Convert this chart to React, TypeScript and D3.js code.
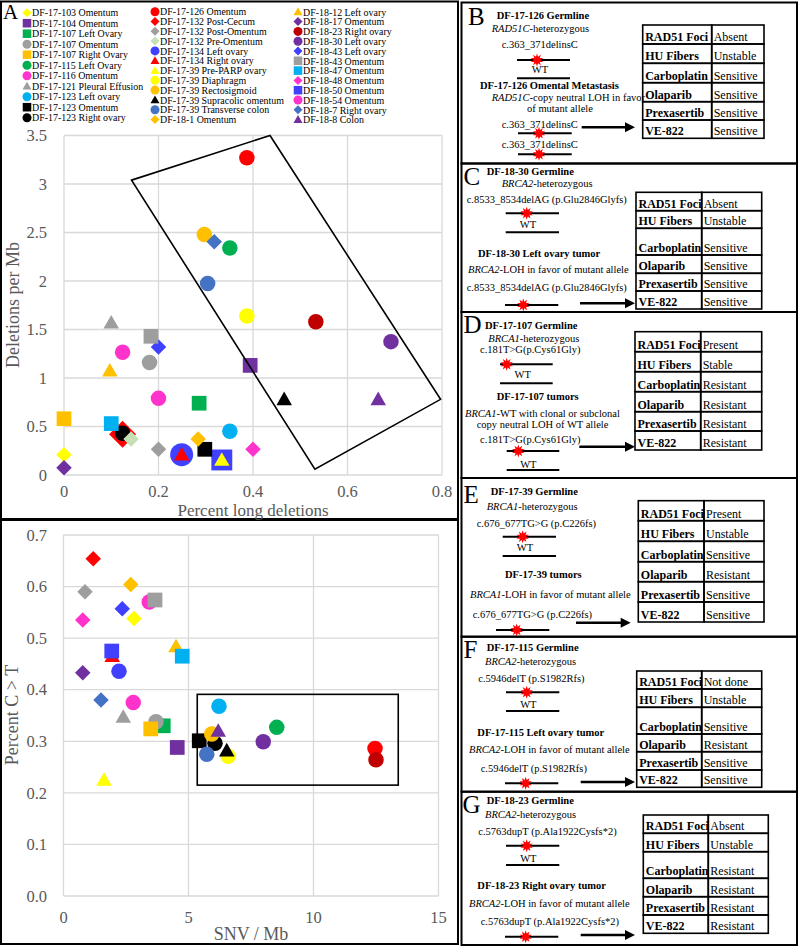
import React from 'react';
import * as d3 from 'd3';

// ---------------- DATA ----------------
const seriesNames = [
  'DF-17-103 Omentum', 'DF-17-104 Omentum', 'DF-17-107 Left Ovary', 'DF-17-107 Omentum',
  'DF-17-107 Right Ovary', 'DF-17-115 Left Ovary', 'DF-17-116 Omentum', 'DF-17-121 Pleural Effusion',
  'DF-17-123 Left ovary', 'DF-17-123 Omentum', 'DF-17-123 Right ovary',
  'DF-17-126 Omentum', 'DF-17-132 Post-Cecum', 'DF-17-132 Post-Omentum', 'DF-17-132 Pre-Omentum',
  'DF-17-134 Left ovary', 'DF-17-134 Right ovary', 'DF-17-39 Pre-PARP ovary', 'DF-17-39 Diaphragm',
  'DF-17-39 Rectosigmoid', 'DF-17-39 Supracolic omentum', 'DF-17-39 Transverse colon', 'DF-18-1 Omentum',
  'DF-18-12 Left ovary', 'DF-18-17 Omentum', 'DF-18-23 Right ovary', 'DF-18-30 Left ovary',
  'DF-18-43 Left ovary', 'DF-18-43 Omentum', 'DF-18-47 Omentum', 'DF-18-48 Omentum',
  'DF-18-50 Omentum', 'DF-18-54 Omentum', 'DF-18-7 Right ovary', 'DF-18-8 Colon',
];
const seriesColors = [
  '#ffff00', '#7030a0', '#00b050', '#9e9e9e', '#ffc000', '#00b050', '#ff33cc', '#9e9e9e',
  '#00b0f0', '#000000', '#000000',
  '#ff0000', '#ff0000', '#9e9e9e', '#c5e0b4', '#4040ff', '#ff0000', '#ffff00', '#ffff00',
  '#ffc000', '#000000', '#4472c4', '#ffc000',
  '#ffc000', '#7030a0', '#c00000', '#7030a0', '#4040ff', '#9e9e9e', '#00b0f0', '#ff33cc',
  '#4040ff', '#ff33cc', '#4472c4', '#7030a0',
];
const seriesShapes = [
  'diamond', 'square', 'square', 'circle', 'square', 'circle', 'circle', 'triangle',
  'circle', 'square', 'circle',
  'circle', 'diamond', 'diamond', 'diamond', 'circle', 'triangle', 'triangle', 'circle',
  'circle', 'triangle', 'circle', 'diamond',
  'triangle', 'diamond', 'circle', 'circle', 'diamond', 'square', 'square', 'diamond',
  'square', 'circle', 'diamond', 'triangle',
];
// Panel A top: percent long deletions vs deletions per Mb
const pctLongDel = [
  0, 0.394, 0.286, 0.181, 0, 0.351, 0.124, 0.1, 0.351, 0.298, 0.124,
  0.387, 0.124, 0.2, 0.142, 0.249, 0.249, 0.334, 0.387, 0.297, 0.466, 0.304, 0.284,
  0.097, 0, 0.533, 0.692, 0.2, 0.184, 0.1, 0.4, 0.334, 0.2, 0.318, 0.665,
];
const delPerMb = [
  0.21, 1.13, 0.74, 1.16, 0.58, 2.34, 1.265, 1.57, 0.45, 0.265, 0.43,
  3.27, 0.42, 0.265, 0.37, 0.21, 0.21, 0.155, 1.64, 2.48, 0.78, 1.975, 0.37,
  1.075, 0.075, 1.58, 1.375, 1.32, 1.43, 0.53, 0.265, 0.155, 0.79, 2.405, 0.78,
];
// Panel A bottom: SNV / Mb vs percent C > T
const snvPerMb = [
  2.82, 4.55, 3.99, 3.7, 3.49, 8.53, 3.43, 2.39, 6.22, 5.43, 6.06,
  12.46, 1.19, 0.86, 5.95, 2.22, 1.95, 1.62, 6.59, 5.93, 6.53, 5.73, 2.69,
  4.5, 0.77, 12.5, 7.99, 2.35, 3.66, 4.75, 0.77, 1.93, 2.79, 1.5, 6.19,
];
const pctCtoT = [
  0.538, 0.288, 0.33, 0.338, 0.324, 0.327, 0.57, 0.347, 0.368, 0.301, 0.296,
  0.286, 0.654, 0.59, 0.315, 0.436, 0.465, 0.225, 0.271, 0.314, 0.282, 0.275, 0.604,
  0.484, 0.433, 0.264, 0.299, 0.557, 0.574, 0.465, 0.535, 0.475, 0.375, 0.38, 0.32,
];
const enlargedTop = ['DF-17-132 Post-Cecum', 'DF-17-134 Left ovary', 'DF-18-50 Omentum'];

const xTicksTop = [0, 0.2, 0.4, 0.6, 0.8];
const yTicksTop = [0, 0.5, 1, 1.5, 2, 2.5, 3, 3.5];
const xTicksBot = [0, 5, 10, 15];
const yTicksBot = [0, 0.1, 0.2, 0.3, 0.4, 0.5, 0.6, 0.7];
// highlight polygon (data units) top, rectangle bottom
const boxTopX = [0.143, 0.436, 0.797, 0.531];
const boxTopY = [3.04, 3.5, 0.78, 0.06];
const boxBotX = [5.35, 13.39];
const boxBotY = [0.215, 0.391];

const tableRows = ['RAD51 Foci', 'HU Fibers', 'Carboplatin', 'Olaparib', 'Prexasertib', 'VE-822'];
const valuesB = ['Absent', 'Unstable', 'Sensitive', 'Sensitive', 'Sensitive', 'Sensitive'];
const valuesC = ['Absent', 'Unstable', 'Sensitive', 'Sensitive', 'Sensitive', 'Sensitive'];
const valuesD = ['Present', 'Stable', 'Resistant', 'Resistant', 'Resistant', 'Resistant'];
const valuesE = ['Present', 'Unstable', 'Sensitive', 'Resistant', 'Sensitive', 'Sensitive'];
const valuesF = ['Not done', 'Unstable', 'Sensitive', 'Resistant', 'Sensitive', 'Sensitive'];
const valuesG = ['Absent', 'Unstable', 'Resistant', 'Resistant', 'Resistant', 'Resistant'];

// ---------------- HELPERS ----------------
const FONT = '"Liberation Serif", "Times New Roman", serif';
const AXIS_GRAY = '#595959';
const GRID = '#d9d9d9';

function Marker({ shape, color, cx, cy, s }: any) {
  const h = s / 2;
  if (shape === 'circle') return <circle cx={cx} cy={cy} r={h} fill={color} />;
  if (shape === 'square') return <rect x={cx - h * 0.95} y={cy - h * 0.95} width={s * 0.95} height={s * 0.95} fill={color} />;
  if (shape === 'diamond')
    return <polygon points={`${cx},${cy - h} ${cx + h},${cy} ${cx},${cy + h} ${cx - h},${cy}`} fill={color} />;
  return (
    <polygon
      points={`${cx},${cy - h * 1.0} ${cx + h},${cy + h * 0.75} ${cx - h},${cy + h * 0.75}`}
      fill={color}
    />
  );
}

function TopChart() {
  const x = d3.scaleLinear().domain([0, 0.8]).range([64, 442]);
  const y = d3.scaleLinear().domain([0, 3.5]).range([475, 135.5]);
  const idx = d3.range(seriesNames.length);
  const size = (i: number) => {
    const k = enlargedTop.indexOf(seriesNames[i]);
    if (k === 0) return 27;
    if (k === 1) return 23;
    if (k === 2) return 22;
    return 15.5;
  };
  const order = idx.slice().sort((a, b) => size(b) - size(a) || a - b);
  const poly = boxTopX.map((v, i) => `${x(v)},${y(boxTopY[i])}`).join(' ');
  return (
    <g>
      {xTicksTop.map((t) => (
        <line key={'gx' + t} x1={x(t)} x2={x(t)} y1={y(0)} y2={y(3.5)} stroke={GRID} strokeWidth={1.3} />
      ))}
      {yTicksTop.map((t) => (
        <line key={'gy' + t} x1={x(0)} x2={x(0.8)} y1={y(t)} y2={y(t)} stroke={GRID} strokeWidth={1.3} />
      ))}
      {yTicksTop.map((t) => (
        <text key={'ty' + t} x={47} y={y(t)} dy="0.35em" textAnchor="end" fontSize={16.5} fill={AXIS_GRAY}>
          {String(t)}
        </text>
      ))}
      {xTicksTop.map((t) => (
        <text key={'tx' + t} x={x(t)} y={491} dy="0.35em" textAnchor="middle" fontSize={16.5} fill={AXIS_GRAY}>
          {String(t)}
        </text>
      ))}
      <text x={253} y={510} dy="0.35em" textAnchor="middle" fontSize={17} fill={AXIS_GRAY}>
        Percent long deletions
      </text>
      <text transform="translate(12.5,305) rotate(-90)" dy="0.35em" textAnchor="middle" fontSize={18} fill={AXIS_GRAY}>
        Deletions per Mb
      </text>
      {order.map((i) => (
        <Marker key={'m' + i} shape={seriesShapes[i]} color={seriesColors[i]} cx={x(pctLongDel[i])} cy={y(delPerMb[i])} s={size(i)} />
      ))}
      <polygon points={poly} fill="none" stroke="#000" strokeWidth={1.6} />
    </g>
  );
}

function BottomChart() {
  const x = d3.scaleLinear().domain([0, 15]).range([63.5, 438.5]);
  const y = d3.scaleLinear().domain([0, 0.7]).range([896, 535]);
  const idx = d3.range(seriesNames.length);
  return (
    <g>
      {xTicksBot.map((t) => (
        <line key={'gx' + t} x1={x(t)} x2={x(t)} y1={y(0)} y2={y(0.7)} stroke={GRID} strokeWidth={1.3} />
      ))}
      {yTicksBot.map((t) => (
        <line key={'gy' + t} x1={x(0)} x2={x(15)} y1={y(t)} y2={y(t)} stroke={GRID} strokeWidth={1.3} />
      ))}
      {yTicksBot.map((t) => (
        <text key={'ty' + t} x={47} y={y(t)} dy="0.35em" textAnchor="end" fontSize={16.5} fill={AXIS_GRAY}>
          {d3.format('.1f')(t)}
        </text>
      ))}
      {xTicksBot.map((t) => (
        <text key={'tx' + t} x={x(t)} y={917.5} dy="0.35em" textAnchor="middle" fontSize={16.5} fill={AXIS_GRAY}>
          {String(t)}
        </text>
      ))}
      <text x={251} y={933.5} dy="0.35em" textAnchor="middle" fontSize={18} fill={AXIS_GRAY}>
        SNV / Mb
      </text>
      <text transform="translate(12,715) rotate(-90)" dy="0.35em" textAnchor="middle" fontSize={18} fill={AXIS_GRAY}>
        {'Percent C > T'}
      </text>
      {idx.map((i) => (
        <Marker key={'m' + i} shape={seriesShapes[i]} color={seriesColors[i]} cx={x(snvPerMb[i])} cy={y(pctCtoT[i])} s={15.5} />
      ))}
      <rect
        x={x(boxBotX[0])}
        y={y(boxBotY[1])}
        width={x(boxBotX[1]) - x(boxBotX[0])}
        height={y(boxBotY[0]) - y(boxBotY[1])}
        fill="none"
        stroke="#000"
        strokeWidth={1.6}
      />
    </g>
  );
}

function Legend() {
  const cols = [
    { start: 0, n: 11, mx: 27, y0: 12.7, dy: 10.5 },
    { start: 11, n: 12, mx: 155, y0: 11.7, dy: 9.8 },
    { start: 23, n: 12, mx: 298, y0: 11.8, dy: 9.8 },
  ];
  return (
    <g>
      {cols.map((c) =>
        d3.range(c.n).map((k) => {
          const i = c.start + k;
          const cy = c.y0 + k * c.dy;
          return (
            <g key={'lg' + i}>
              <Marker shape={seriesShapes[i]} color={seriesColors[i]} cx={c.mx} cy={cy} s={9} />
              <g transform={`translate(${c.mx + 5},${cy}) scale(0.92,1)`}>
                <text x={0} y={0} dy="0.35em" fontSize={10.8} fill="#000">
                  {seriesNames[i]}
                </text>
              </g>
            </g>
          );
        })
      )}
    </g>
  );
}

function Rich({ x, y, s, bold, anchor, size }: any) {
  const parts = s.split(/\{|\}/);
  return (
    <text x={x} y={y} fontSize={size || 10.5} fontWeight={bold ? 'bold' : 'normal'} textAnchor={anchor || 'start'} fill="#000">
      {parts.map((p: string, k: number) =>
        p ? (
          <tspan key={k} fontStyle={k % 2 === 1 ? 'italic' : 'normal'}>
            {p}
          </tspan>
        ) : null
      )}
    </text>
  );
}

const starPath = d3.symbol().type(d3.symbolStar).size(48)() as string;

function Panel({ p }: any) {
  return (
    <g>
      <rect x={461.5} y={p.top} width={335.5} height={p.bottom - p.top} fill="none" stroke="#000" strokeWidth={2} />
      <text x={p.lx} y={p.ly} fontSize={25}>{p.letter}</text>
      {p.texts.map((t: any, k: number) => (
        <Rich key={k} x={t[0]} y={t[1]} s={t[2]} bold={t[3] === 'b'} anchor={t[3] === 'm' ? 'middle' : 'start'} />
      ))}
      {p.lines.map((l: any, k: number) => (
        <g key={'l' + k}>
          <line x1={l[1]} x2={l[2]} y1={l[0]} y2={l[0]} stroke="#000" strokeWidth={2} />
          {l[3] != null && (
            <g transform={`translate(${l[3]},${l[0]})`}>
              <path d={starPath} fill="#ff0000" />
              <path d={starPath} fill="#ff0000" transform="rotate(36)" />
            </g>
          )}
        </g>
      ))}
      <line x1={p.arrow[0]} x2={p.arrow[1] - 7} y1={p.arrow[2]} y2={p.arrow[2]} stroke="#000" strokeWidth={2.6} />
      <polygon
        points={`${p.arrow[1]},${p.arrow[2]} ${p.arrow[1] - 10},${p.arrow[2] - 5} ${p.arrow[1] - 10},${p.arrow[2] + 5}`}
        fill="#000"
      />
      <g>
        {tableRows.map((r, k) => (
          <g key={'r' + k}>
            <rect
              x={p.table[0]}
              y={p.rows[k]}
              width={p.table[1] - p.table[0]}
              height={p.rows[k + 1] - p.rows[k]}
              fill="none"
              stroke="#000"
              strokeWidth={1.6}
            />
            <rect
              x={p.table[1]}
              y={p.rows[k]}
              width={p.table[2] - p.table[1]}
              height={p.rows[k + 1] - p.rows[k]}
              fill="none"
              stroke="#000"
              strokeWidth={1.6}
            />
            <text x={p.table[0] + 2.5} y={p.rows[k + 1] - 3} fontSize={12} fontWeight="bold">
              {r}
            </text>
            <text x={p.table[1] + 2} y={p.rows[k + 1] - 3} fontSize={12}>
              {p.values[k]}
            </text>
          </g>
        ))}
      </g>
    </g>
  );
}

const panels = [
  {
    letter: 'B', lx: 468, ly: 25, top: 2.5, bottom: 163.5,
    texts: [
      [496.7, 19, 'DF-17-126 Germline', 'b'],
      [491.7, 32, '{RAD51C}-heterozygous'],
      [501.7, 48, 'c.363_371delinsC'],
      [540, 72.7, 'WT', 'm'],
      [480, 89.3, 'DF-17-126 Omental Metastasis', 'b'],
      [491.7, 100.7, '{RAD51C}-copy neutral LOH in favor'],
      [560, 111.7, 'of mutant allele', 'm'],
      [501.7, 128.3, 'c.363_371delinsC'],
      [501.7, 147.7, 'c.363_371delinsC'],
    ],
    lines: [[60, 517, 570, 537], [78.3, 517, 570, null], [133.3, 518, 571.7, 539], [154.3, 518, 571.7, 539]],
    arrow: [581.7, 635, 127.3],
    table: [642.7, 711.7, 764],
    rows: [25, 44, 63.3, 82.7, 101.7, 120, 138.3],
    values: valuesB,
  },
  {
    letter: 'C', lx: 463.5, ly: 185, top: 163.5, bottom: 312,
    texts: [
      [486.7, 175, 'DF-18-30 Germline', 'b'],
      [501.7, 186.7, '{BRCA2}-heterozygous'],
      [466.7, 203.3, 'c.8533_8534delAG (p.Glu2846Glyfs)'],
      [528, 228.3, 'WT', 'm'],
      [478, 256.7, 'DF-18-30 Left ovary tumor', 'b'],
      [468, 273.3, '{BRCA2}-LOH in favor of mutant allele'],
      [466.7, 290.7, 'c.8533_8534delAG (p.Glu2846Glyfs)'],
    ],
    lines: [[213.3, 505.7, 559, 526.7], [232.3, 505.7, 559, null], [305, 505, 558.3, 523.3]],
    arrow: [580, 635, 303.3],
    table: [636, 701.7, 761.7],
    rows: [192.3, 210.7, 228.3, 255, 273.3, 291, 309],
    values: valuesC,
  },
  {
    letter: 'D', lx: 463.5, ly: 333, top: 312, bottom: 478,
    texts: [
      [485, 329, 'DF-17-107 Germline', 'b'],
      [488.3, 342.3, '{BRCA1}-heterozygous'],
      [480, 353.3, 'c.181T>G(p.Cys61Gly)'],
      [522.7, 378.3, 'WT', 'm'],
      [496.7, 400, 'DF-17-107 tumors', 'b'],
      [465, 416.7, '{BRCA1}-WT with clonal or subclonal'],
      [476.7, 428.3, 'copy neutral LOH of WT allele'],
      [480, 443.3, 'c.181T>G(p.Cys61Gly)'],
      [528.3, 468.3, 'WT', 'm'],
    ],
    lines: [[364.3, 500, 552.7, 506.7], [383.3, 500, 552.7, null], [451, 506.7, 559.3, 518.3], [470, 506.7, 559.3, null]],
    arrow: [579.3, 635, 446.7],
    table: [635, 700.7, 761.7],
    rows: [331.7, 351.7, 371.7, 391.7, 411.7, 431, 450],
    values: valuesD,
  },
  {
    letter: 'E', lx: 463.5, ly: 503.3, top: 478, bottom: 636.7,
    texts: [
      [490.7, 495, 'DF-17-39 Germline', 'b'],
      [486.7, 510, '{BRCA1}-heterozygous'],
      [476.7, 527.3, 'c.676_677TG>G (p.C226fs)'],
      [525, 550.7, 'WT', 'm'],
      [505, 578.3, 'DF-17-39 tumors', 'b'],
      [470, 598.3, '{BRCA1}-LOH in favor of mutant allele'],
      [472.7, 617.7, 'c.676_677TG>G (p.C226fs)'],
    ],
    lines: [[536.7, 502.7, 556, 522.7], [556, 502.7, 556, null], [630, 496, 549.3, 516.7]],
    arrow: [576, 630.7, 622.7],
    table: [638.3, 704, 764],
    rows: [500.7, 520.7, 541.3, 561.7, 581.7, 602, 622],
    values: valuesE,
  },
  {
    letter: 'F', lx: 463.5, ly: 658.3, top: 636.7, bottom: 791.7,
    texts: [
      [486.7, 650.7, 'DF-17-115 Germline', 'b'],
      [485, 665, '{BRCA2}-heterozygous'],
      [478.3, 681.7, 'c.5946delT (p.S1982Rfs)'],
      [528.3, 708.3, 'WT', 'm'],
      [477.3, 735.7, 'DF-17-115 Left ovary tumor', 'b'],
      [469, 753.3, '{BRCA2}-LOH in favor of mutant allele'],
      [480.7, 771.7, 'c.5946delT (p.S1982Rfs)'],
    ],
    lines: [[692.3, 506, 559.3, 526.7], [711, 506, 559.3, null], [783.3, 505, 558.3, 525.7]],
    arrow: [580.7, 635, 782],
    table: [636.7, 701.7, 761.7],
    rows: [671, 689, 707.3, 734, 751.7, 770, 787.3],
    values: valuesF,
  },
  {
    letter: 'G', lx: 462.5, ly: 813.3, top: 791.7, bottom: 945,
    texts: [
      [486.7, 804, 'DF-18-23 Germline', 'b'],
      [485, 817.7, '{BRCA2}-heterozygous'],
      [478.3, 835, 'c.5763dupT (p.Ala1922Cysfs*2)'],
      [528.3, 861.7, 'WT', 'm'],
      [477.3, 889, 'DF-18-23 Right ovary tumor', 'b'],
      [469, 906.7, '{BRCA2}-LOH in favor of mutant allele'],
      [480.7, 925, 'c.5763dupT (p.Ala1922Cysfs*2)'],
    ],
    lines: [[845.7, 506, 559.3, 526.7], [865, 506, 559.3, null], [936.7, 505, 558.3, 525.7]],
    arrow: [580.7, 635, 935],
    table: [643.3, 708.3, 768.3],
    rows: [815, 833.3, 851.7, 878.3, 896.7, 915, 933.3],
    values: valuesG,
  },
];

export default function App() {
  return (
    <svg
      width={800}
      height={947}
      viewBox="0 0 800 947"
      style={{ position: 'absolute', left: 0, top: 0, display: 'block', background: '#fff' }}
      fontFamily={FONT}
    >
      <rect x={0} y={0} width={800} height={947} fill="#fff" />
      <rect x={1} y={1.5} width={457} height={517.5} fill="none" stroke="#000" strokeWidth={2} />
      <rect x={1} y={520} width={457} height={424} fill="none" stroke="#000" strokeWidth={2} />
      <text x={3} y={19} fontSize={21}>A</text>
      <Legend />
      <TopChart />
      <BottomChart />
      {panels.map((p) => (
        <Panel key={p.letter} p={p} />
      ))}
    </svg>
  );
}
